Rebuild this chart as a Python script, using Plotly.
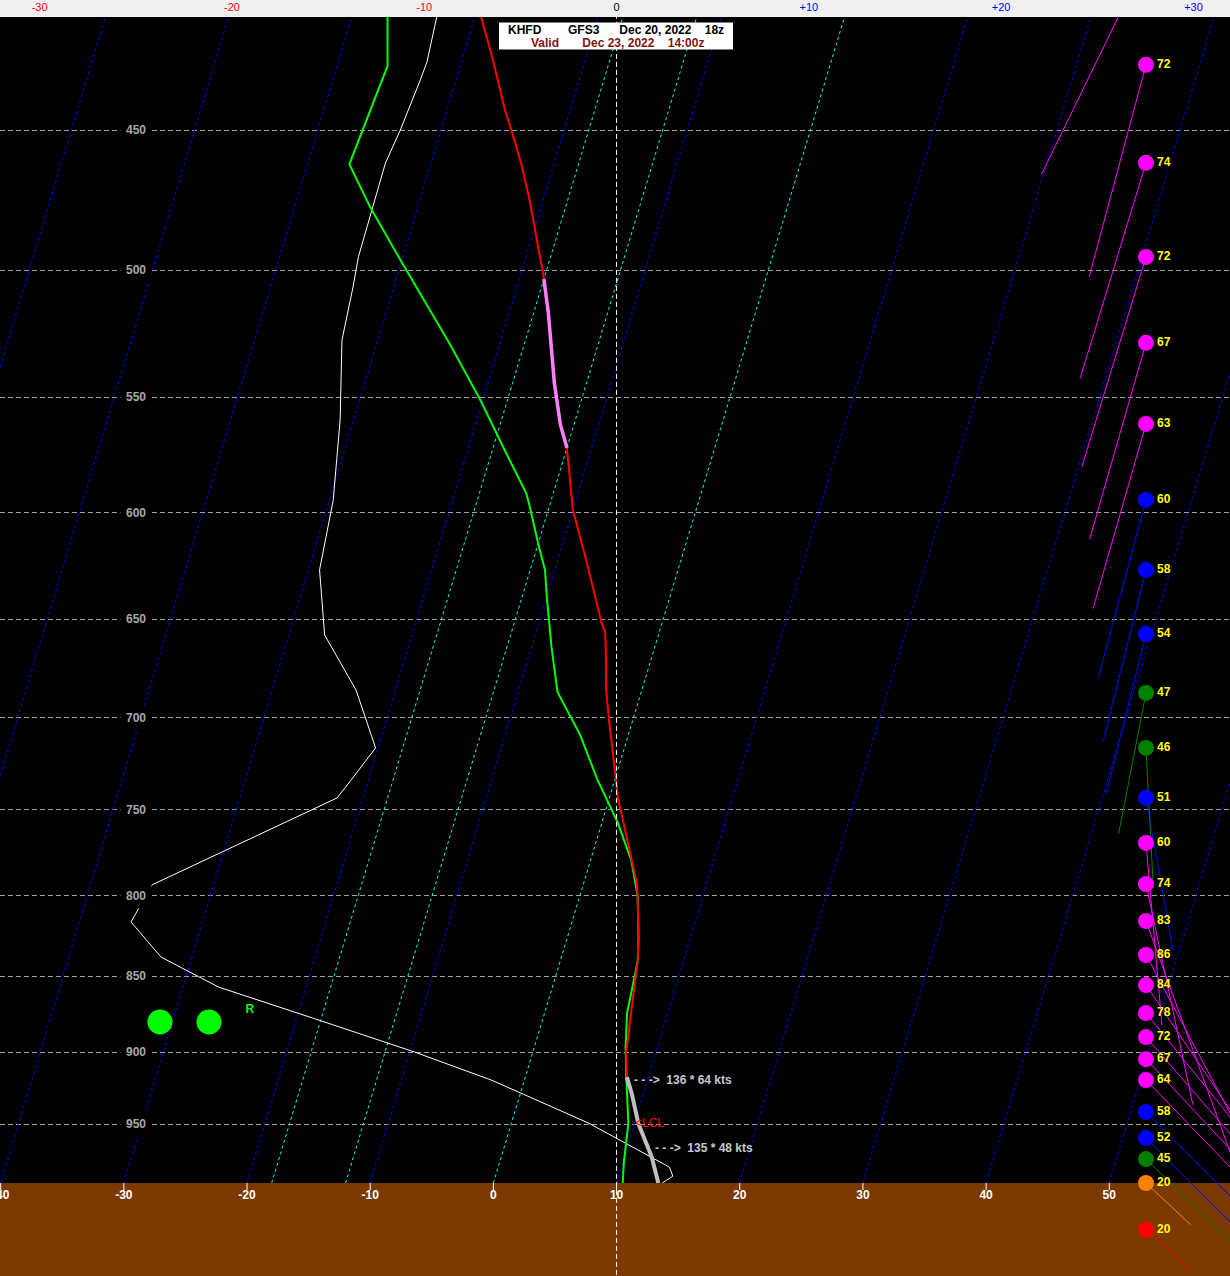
import numpy as np
import plotly.graph_objects as go

# ---------------- data ----------------
station, model, run_date, cycle = "KHFD", "GFS3", "Dec 20, 2022", "18z"
valid_date, valid_time = "Dec 23, 2022", "14:00z"

pres_levels = [450, 500, 550, 600, 650, 700, 750, 800, 850, 900, 950]
isotherm_t = list(range(-100, 61, 10))
special_t = [-18, -12, 0]            # cyan isotherms (DGZ bounds, freezing)
ground_ticks = [-40, -30, -20, -10, 0, 10, 20, 30, 40, 50]
top_ticks = [-30, -20, -10, 0, 10, 20, 30]
top_text = ["-30", "-20", "-10", "0", "+10", "+20", "+30"]

# temperature (red)
temp_p = [400, 413.3, 426.8, 443.2, 453.3, 461.9, 474.2, 488.7, 501.7, 516.4, 544.3,
          561.5, 571.4, 598.7, 620.6, 651.8, 656.2, 665.2, 685.5, 700.0, 733.4, 743.4,
          792.4, 800.3, 826.2, 840.8, 859.1, 887.1, 900.6, 917.0]
temp_t = [-31.4, -29.5, -27.5, -25.3, -23.8, -22.6, -21.1, -19.5, -18.15, -16.8, -14.6,
          -13.1, -12.0, -10.0, -7.8, -4.9, -4.4, -3.9, -2.9, -2.0, 0.1, 0.7,
          4.3, 4.7, 5.8, 6.3, 6.7, 7.3, 7.6, 8.25]

# lowest layer of the temperature profile (grey)
low_p = [917.0, 928.3, 949.4, 973.8, 993.0]
low_t = [8.25, 9.04, 10.30, 12.22, 13.39]

# dewpoint (green)
td_p = [400, 413.3, 428.8, 461.7, 476.6, 495.7, 528.2, 551.2, 573.7, 591.2,
        596.0, 614.0, 626.3, 639.0, 663.5, 686.5, 709.1, 733.4, 757.5, 779.0,
        800.3, 826.2, 840.8, 859.1, 873.9, 896.3, 917.0, 949.4, 968.9, 978.3, 993.0]
td_t = [-38.1, -37.1, -35.9, -36.6, -33.9, -30.2, -24.1, -20.2, -16.8, -14.2,
        -13.7, -12.0, -10.8, -10.0, -8.4, -6.8, -3.9, -1.4, 1.3, 3.3,
        4.7, 5.8, 6.3, 6.5, 6.7, 7.4, 8.2, 9.5, 9.9, 10.1, 10.5]

# white profile
wh_p = [400, 413.3, 427.5, 433.3, 450.0, 461.3, 494.9, 506.3, 526.9, 559.5,
        594.2, 626.3, 657.7, 685.5, 716.0, 733.4, 743.4, 793.6, 816.1, 837.9,
        857.0, 877.2, 899.9, 919.0, 949.4, 981.2, 987.9, 993.0]
wh_t = [-33.4, -33.1, -32.8, -32.9, -33.3, -33.7, -33.6, -33.3, -32.9, -31.1,
        -29.7, -29.1, -27.1, -23.2, -20.2, -21.4, -22.1, -35.0, -35.8, -32.5,
        -27.1, -18.7, -9.6, -2.7, 6.3, 13.9, 14.4, 13.7]

# winds
wind_p = [396.0, 428.4, 461.2, 495.0, 528.0, 561.2, 594.2, 626.3, 657.2, 687.0, 716.0,
          743.4, 769.0, 793.1, 815.5, 836.6, 855.7, 873.9, 889.8, 904.7, 919.0, 941.4,
          960.0, 975.3, 993.0, 1028.6]
wind_spd = [78, 72, 74, 72, 67, 63, 60, 58, 54, 47, 46, 51, 60, 74, 83, 86, 84, 78, 72,
            67, 64, 58, 52, 45, 20, 20]
wind_dir = [206, 195, 197, 197, 196, 196, 195, 194, 194, 191, 177, 170, 175, 168, 160,
            152, 146, 141, 139, 137, 136, 135, 135, 134, 133, 132]
wind_col = (["#ff00ff"] * 6 + ["#0000ff"] * 3 + ["#008000"] * 2 + ["#0000ff"]
            + ["#ff00ff"] * 9 + ["#0000ff"] * 2 + ["#008000"] + ["#ff8000", "#ff0000"])

mean_wind_text = "135 * 48 kts"
lcl_p = 949.4

# ---------------- layout constants ----------------
W, H, TOP = 1230, 1276, 17
P_SFC = 993.0
SKEW = 32.52
X_RANGE = [-40.055, 59.80]
P_RANGE = [1064.9, 413.3]
TOP_RANGE = [-32.06, 31.90]
PX_PER_C = W / (X_RANGE[1] - X_RANGE[0])
PX_PER_LN = (H - TOP) / np.log(P_RANGE[0] / P_RANGE[1])
WIND_X = 52.98
FONT = "Liberation Sans, Arial, sans-serif"


def sk(t, p):
    return np.asarray(t, float) + SKEW * np.log(P_SFC / np.asarray(p, float))


def paper_y(pix):
    return 1 - (pix - TOP) / (H - TOP)


def band_path(ps, ts, lo, hi):
    lp = np.log(np.asarray(ps, float))
    ts = np.asarray(ts, float)
    xs, ys = [], []
    open_end = None
    for i in range(len(ts) - 1):
        t0, t1, l0, l1 = ts[i], ts[i + 1], lp[i], lp[i + 1]
        if t1 != t0:
            a, b = (lo - t0) / (t1 - t0), (hi - t0) / (t1 - t0)
            s0, s1 = max(0.0, min(a, b)), min(1.0, max(a, b))
        else:
            s0, s1 = (0.0, 1.0) if lo <= t0 <= hi else (1.0, 0.0)
        if s0 >= s1:
            continue
        pts = []
        for s in (s0, s1):
            t = t0 + s * (t1 - t0)
            p = float(np.exp(l0 + s * (l1 - l0)))
            pts.append((float(sk(t, p)), p))
        if open_end is not None and s0 == 0.0 and open_end == i:
            xs.append(pts[1][0]); ys.append(pts[1][1])
        else:
            if xs:
                xs.append(None); ys.append(None)
            xs += [pts[0][0], pts[1][0]]; ys += [pts[0][1], pts[1][1]]
        open_end = i + 1 if s1 == 1.0 else None
    return xs, ys


fig = go.Figure()

# isotherms
ix, iy = [], []
for t in isotherm_t:
    if t in special_t:
        continue
    ix += list(sk([t, t], [P_SFC, 380])) + [None]
    iy += [P_SFC, 380, None]
fig.add_trace(go.Scatter(x=ix, y=iy, mode="lines", line=dict(color="#0000ff", width=1, dash="3px,3px"),
                         hoverinfo="skip"))
cx, cy = [], []
for t in special_t:
    cx += list(sk([t, t], [P_SFC, 380])) + [None]
    cy += [P_SFC, 380, None]
fig.add_trace(go.Scatter(x=cx, y=cy, mode="lines", line=dict(color="#00ffff", width=1, dash="3px,3px"),
                         hoverinfo="skip"))

# profiles
fig.add_trace(go.Scatter(x=sk(wh_t, wh_p), y=wh_p, mode="lines",
                         line=dict(color="white", width=1), hoverinfo="skip"))
fig.add_trace(go.Scatter(x=sk(td_t, td_p), y=td_p, mode="lines",
                         line=dict(color="#00ff00", width=2), hoverinfo="skip"))
fig.add_trace(go.Scatter(x=sk(temp_t, temp_p), y=temp_p, mode="lines",
                         line=dict(color="#ff0000", width=2), hoverinfo="skip"))
bx, by = band_path(temp_p, temp_t, special_t[0], special_t[1])
fig.add_trace(go.Scatter(x=bx, y=by, mode="lines",
                         line=dict(color="#ff80ff", width=3.5), hoverinfo="skip"))
fig.add_trace(go.Scatter(x=sk(low_t, low_p), y=low_p, mode="lines",
                         line=dict(color="#c0c0c0", width=4), hoverinfo="skip"))

# ground
fig.add_trace(go.Scatter(x=[-60, 80, 80, -60, -60], y=[P_SFC, P_SFC, 1200, 1200, P_SFC],
                         mode="lines", fill="toself", fillcolor="#7b3900",
                         line=dict(width=0, color="#7b3900"), hoverinfo="skip"))

# vertical reference line
fig.add_trace(go.Scatter(x=[10, 10], y=[1200, 380], mode="lines",
                         line=dict(color="white", width=1, dash="5px,3px"), hoverinfo="skip"))

# ground ticks and labels
gx, gy = [], []
for t in ground_ticks:
    gx += [t, t, None]
    gy += [P_SFC, P_SFC * np.exp(7 / PX_PER_LN), None]
fig.add_trace(go.Scatter(x=gx, y=gy, mode="lines", line=dict(color="white", width=1), hoverinfo="skip"))
fig.add_trace(go.Scatter(x=ground_ticks, y=[P_SFC * np.exp(13 / PX_PER_LN)] * len(ground_ticks),
                         mode="text", text=[f"<b>{t}</b>" for t in ground_ticks],
                         textposition="middle center",
                         textfont=dict(color="white", size=12, family=FONT), hoverinfo="skip"))

# wind lines
for col in dict.fromkeys(wind_col):
    lx, ly = [], []
    for p, s, d, c in zip(wind_p, wind_spd, wind_dir, wind_col):
        if c != col:
            continue
        L = 3.05 * s
        r = np.radians(d)
        lx += [WIND_X, WIND_X + L * np.sin(r) / PX_PER_C, None]
        ly += [p, p * np.exp(-L * np.cos(r) / PX_PER_LN), None]
    fig.add_trace(go.Scatter(x=lx, y=ly, mode="lines", line=dict(color=col, width=1), hoverinfo="skip"))
wind_text = [f"<b>{s}</b>" if p >= P_RANGE[1] else "" for p, s in zip(wind_p, wind_spd)]
fig.add_trace(go.Scatter(x=[WIND_X] * len(wind_p), y=wind_p, mode="markers+text",
                         marker=dict(size=16, color=wind_col, line=dict(width=0)),
                         text=wind_text, textposition="middle right",
                         textfont=dict(color="#ffff00", size=12, family=FONT), hoverinfo="skip"))

# precipitation type markers
fig.add_trace(go.Scatter(x=[-27.07, -23.09], y=[879.8, 879.8], mode="markers",
                         marker=dict(size=25, color="#00ff00"), hoverinfo="skip"))
fig.add_trace(go.Scatter(x=[-19.77], y=[872.0], mode="text", text=["<b>R</b>"],
                         textfont=dict(color="#00ff00", size=12, family=FONT), hoverinfo="skip"))

# dummy trace for the top scale
fig.add_trace(go.Scatter(x=top_ticks, y=[600] * len(top_ticks), xaxis="x2", mode="markers",
                         marker=dict(opacity=0), hoverinfo="skip"))

# annotations: pressure labels
for p in pres_levels:
    fig.add_annotation(x=120 / W, xref="paper", y=np.log10(p), yref="y", text=f"<b>{p}</b>",
                       showarrow=False, bgcolor="black", borderpad=5, yanchor="middle",
                       font=dict(color="#a8a8a8", size=12, family=FONT))

# LCL and wind text
fig.add_annotation(x=11.33, y=np.log10(lcl_p), xref="x", yref="y", text="&lt;LCL", showarrow=False,
                   xanchor="left", yanchor="middle", font=dict(color="#ff0000", size=12, family=FONT))
i64 = wind_p.index(919.0)
fig.add_annotation(x=11.26, y=np.log10(wind_p[i64]), xref="x", yref="y",
                   text=f"<b>- - -&gt;\u00a0\u00a0{wind_dir[i64]} * {wind_spd[i64]} kts</b>",
                   showarrow=False, xanchor="left", yanchor="middle",
                   font=dict(color="#c8c8c8", size=12, family=FONT))
fig.add_annotation(x=12.96, y=np.log10(967.2), xref="x", yref="y",
                   text=f"<b>- - -&gt;\u00a0\u00a0{mean_wind_text}</b>",
                   showarrow=False, xanchor="left", yanchor="middle",
                   font=dict(color="#c8c8c8", size=12, family=FONT))

# title box
nb = "\u00a0"
fig.add_shape(type="rect", xref="paper", yref="paper", x0=499 / W, x1=733 / W,
              y0=paper_y(49.5), y1=paper_y(22.5), fillcolor="white", line=dict(width=0), layer="above")
fig.add_annotation(x=616 / W, y=paper_y(30), xref="paper", yref="paper", showarrow=False,
                   xanchor="center", yanchor="middle",
                   text=f"<b>{station}{nb*8}{model}{nb*6}{run_date}{nb*4}{cycle}</b>",
                   font=dict(color="black", size=12, family=FONT))
fig.add_annotation(x=617 / W, y=paper_y(43), xref="paper", yref="paper", showarrow=False,
                   xanchor="center", yanchor="middle",
                   text=f"<b>Valid{nb*7}{valid_date}{nb*4}{valid_time}</b>",
                   font=dict(color="#7f1414", size=12, family=FONT))

top_colored = []
for v, s in zip(top_ticks, top_text):
    c = "#ff0000" if v < 0 else ("#0000ff" if v > 0 else "#000000")
    top_colored.append(f"<span style='color:{c}'>{s}</span>")

fig.update_layout(
    width=W, height=H, margin=dict(l=0, r=0, t=TOP, b=0, pad=0),
    paper_bgcolor="#f0f0f0", plot_bgcolor="black", showlegend=False, hovermode=False,
    font=dict(family=FONT, size=12, color="black"),
    xaxis=dict(range=X_RANGE, showgrid=False, zeroline=False, showticklabels=False,
               ticks="", showline=False, fixedrange=True),
    xaxis2=dict(range=TOP_RANGE, overlaying="x", side="top", tickvals=top_ticks,
                ticktext=top_colored, showgrid=False, zeroline=False, ticks="", showline=False,
                tickfont=dict(size=11, family=FONT, color="black"), fixedrange=True,
                ticklabelstandoff=3),
    yaxis=dict(type="log", range=[np.log10(P_RANGE[0]), np.log10(P_RANGE[1])],
               tickvals=pres_levels, showticklabels=False, showgrid=True, gridcolor="#a0a0a0",
               griddash="5px,3px", gridwidth=1, zeroline=False, ticks="", showline=False,
               fixedrange=True),
)

fig.write_html("out.html", config={"displayModeBar": False},
               post_script="document.body.style.margin='0';document.body.style.overflow='hidden';")
